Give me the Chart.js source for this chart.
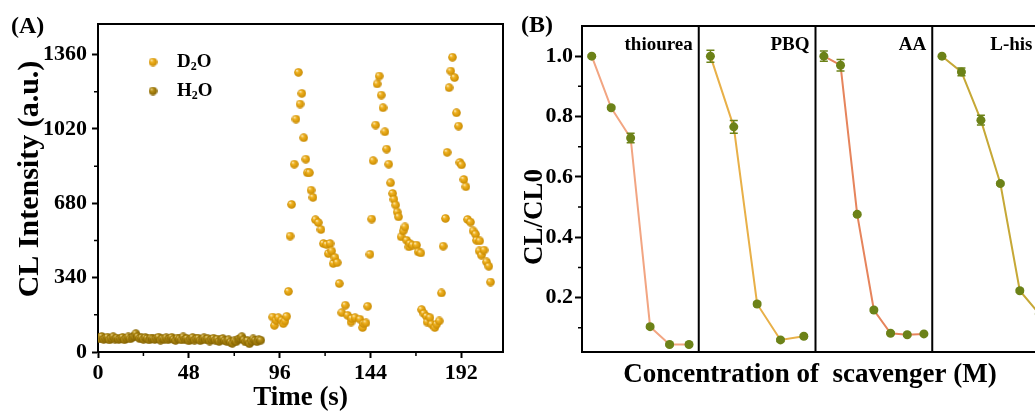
<!DOCTYPE html>
<html><head><meta charset="utf-8">
<script src="https://cdn.jsdelivr.net/npm/chart.js@4/dist/chart.umd.min.js"></script>
<style>
html,body{margin:0;padding:0;width:1035px;height:414px;overflow:hidden;background:#fff;}
#wa{position:absolute;left:0;top:0;width:515px;height:414px;}
#wb{position:absolute;left:515px;top:0;width:560px;height:414px;}
canvas{display:block;}
</style></head><body>
<div id="wa"><canvas id="ca" width="515" height="414"></canvas></div>
<div id="wb"><canvas id="cb" width="560" height="414"></canvas></div>
<script>
// ---------- Panel A data ----------
const h2oValue = [66,60,71,58,63,68,55,62,70,59,
  64,57,61,67,56,63,69,60,66,72,
  84,70,61,65,58,66,62,55,64,60,
  57,63,68,54,61,59,65,56,62,67,
  58,53,64,60,55,69,57,62,51,59,
  66,54,60,63,52,58,65,56,61,50,
  57,63,54,59,48,55,61,52,49,56,
  45,40,51,47,58,62,70,55,46,52,
  38,49,60,53,47,56,54];
const h2oTime = h2oValue.map((v, i) => i);

const d2oTime = [92.3,93.2,94.1,95.3,97.1,97.9,98.8,99.7,100.6,101.5,102.3,103.7,104.6,105.9,106.8,107.7,108.7,109.8,110.6,111.7,112.6,113.6,114.9,116.4,117.8,119.1,120.8,121.7,122.6,123.5,124.3,125.2,126.4,127.5,128.8,130.7,131.9,133.7,134.0,135.8,138.4,139.8,140.2,141.6,142.5,
  143.7,144.6,145.4,146.7,147.5,148.6,149.7,150.6,151.6,152.5,153.6,154.6,155.7,156.4,157.3,158.1,158.8,160.2,161.3,162.2,163.1,164.3,164.8,166.2,168.3,169.2,170.6,
  171.0,172.2,173.6,173.9,175.4,176.3,178.0,178.9,180.3,
  181.5,182.4,183.6,184.5,185.5,186.4,187.3,188.4,189.4,190.5,191.2,192.1,193.3,194.4,195.3,196.8,198.2,199.5,200.0,201.4,201.7,202.6,204.0,205.3,206.5,207.4];
const d2oValue = [160,122,145,157,145,130,142,163,277,530,675,859,1065,1279,1134,1183,980,882,820,820,740,707,605,592,560,496,491,450,496,462,405,432,409,313,180,214,168,137,153,157,150,112,130,133,209,
  447,608,875,1038,1226,1262,1175,1117,1007,928,859,774,725,698,672,640,618,527,554,572,511,481,496,489,489,458,453,
  194,176,163,137,157,127,112,127,142,
  270,484,611,913,1209,1285,1348,1255,1094,1033,867,856,789,756,606,594,554,539,511,462,508,443,466,412,392,320];

const xTicksA = [0,48,96,144,192];
const xMinorA = [24,72,120,168];
const yTicksA = [0,340,680,1020,1360];
const yMinorA = [170,510,850,1190];

// ---------- Panel B data ----------
const scavengers = ['thiourea','PBQ','AA','L-his'];
const thioureaCL = [1.0,0.829,0.729,0.104,0.045,0.045];
const thioureaErr = [0.004,0.005,0.016,0.005,0.004,0.004];
const pbqCL = [1.0,0.766,0.179,0.06,0.072];
const pbqErr = [0.02,0.021,0.006,0.005,0.005];
const aaCL = [1.0,0.970,0.476,0.159,0.082,0.077,0.080];
const aaErr = [0.017,0.019,0.005,0.005,0.004,0.004,0.004];
const lhisCL = [1.0,0.948,0.788,0.578,0.223,0.146];
const lhisErr = [0.004,0.013,0.016,0.005,0.005,0.005];
const yTicksB = [0.2,0.4,0.6,0.8,1.0];
const yMinorB = [0.1,0.3,0.5,0.7,0.9];

// ---------- styles ----------
const FONT = "'Liberation Serif','Times New Roman',serif";
const seriesB = [
  {vals: thioureaCL, err: thioureaErr, line: 'rgb(242,165,130)'},
  {vals: pbqCL, err: pbqErr, line: 'rgb(232,176,72)'},
  {vals: aaCL, err: aaErr, line: 'rgb(230,132,92)'},
  {vals: lhisCL, err: lhisErr, line: 'rgb(198,168,54)'}
];
const POINT_B = 'rgb(108,130,24)';

function makeSphere(d, light, mid, dark) {
  const c = document.createElement('canvas');
  c.width = d; c.height = d;
  const x = c.getContext('2d');
  const r = d / 2;
  const g = x.createRadialGradient(r * 0.62, r * 0.55, 0, r, r, r);
  g.addColorStop(0, light); g.addColorStop(0.35, mid); g.addColorStop(1, dark);
  x.fillStyle = g; x.beginPath(); x.arc(r, r, r - 0.2, 0, Math.PI * 2); x.fill();
  return c;
}
const sphD2O = makeSphere(9, '#fff8dc', '#f0b220', '#c68800');
const sphH2O = makeSphere(9, '#f4e4a8', '#b88f16', '#7f5f00');

function chem(ctx, x, y, parts, size) {
  ctx.textBaseline = 'middle'; ctx.textAlign = 'left';
  for (const [t, sub] of parts) {
    ctx.font = 'bold ' + (sub ? Math.round(size * 0.62) : size) + 'px ' + FONT;
    ctx.fillText(t, x, sub ? y + size * 0.28 : y);
    x += ctx.measureText(t).width;
  }
}

// ---------- Panel A ----------
const plugA = {
  id: 'plugA',
  afterDraw(chart) {
    const {ctx, chartArea: a, scales: {x, y}} = chart;
    ctx.save();
    ctx.strokeStyle = '#000'; ctx.lineWidth = 2;
    ctx.beginPath();
    ctx.moveTo(a.left - 1, a.top); ctx.lineTo(a.right, a.top); ctx.lineTo(a.right, a.bottom + 1);
    ctx.stroke();
    ctx.lineWidth = 1.5;
    ctx.beginPath();
    for (const v of xMinorA) { const px = x.getPixelForValue(v); ctx.moveTo(px, a.bottom); ctx.lineTo(px, a.bottom + 4); }
    for (const v of yMinorA) { const py = y.getPixelForValue(v); ctx.moveTo(a.left, py); ctx.lineTo(a.left - 4, py); }
    ctx.stroke();
    // legend
    ctx.drawImage(sphD2O, 153 - 4.5, 62 - 4.5);
    ctx.drawImage(sphH2O, 153 - 4.5, 91 - 4.5);
    ctx.fillStyle = '#000';
    chem(ctx, 177, 62, [['D', false], ['2', true], ['O', false]], 19);
    chem(ctx, 177, 91, [['H', false], ['2', true], ['O', false]], 19);
    // titles
    ctx.font = 'bold 24px ' + FONT;
    ctx.textAlign = 'left'; ctx.textBaseline = 'middle';
    ctx.fillText('(A)', 11, 27);
    ctx.font = 'bold 27px ' + FONT;
    ctx.textAlign = 'center';
    ctx.fillText('Time (s)', (a.left + a.right) / 2, 398);
    ctx.font = 'bold 30px ' + FONT;
    ctx.translate(30, 179); ctx.rotate(-Math.PI / 2);
    ctx.fillText('CL Intensity (a.u.)', 0, 0);
    ctx.restore();
  }
};

new Chart(document.getElementById('ca'), {
  type: 'scatter',
  data: {
    datasets: [
      {label: 'H2O', data: h2oTime.map((t, i) => ({x: t, y: h2oValue[i]})), pointStyle: sphH2O},
      {label: 'D2O', data: d2oTime.map((t, i) => ({x: t, y: d2oValue[i]})), pointStyle: sphD2O}
    ]
  },
  options: {
    responsive: false, animation: false, devicePixelRatio: 1,
    layout: {padding: {left: 0, top: 24, right: 12, bottom: 0}},
    plugins: {legend: {display: false}, tooltip: {enabled: false}},
    scales: {
      x: {
        type: 'linear', min: 0, max: 214,
        afterBuildTicks: s => { s.ticks = xTicksA.map(v => ({value: v})); },
        afterFit: s => { s.height = 62; },
        ticks: {font: {family: FONT, size: 22, weight: 'bold'}, color: '#000', padding: 2, maxRotation: 0, autoSkip: false, callback: v => String(v)},
        grid: {drawOnChartArea: false, drawTicks: true, tickLength: 6, tickColor: '#000', tickWidth: 2},
        border: {display: true, color: '#000', width: 2}
      },
      y: {
        type: 'linear', min: 0, max: 1500,
        afterBuildTicks: s => { s.ticks = yTicksA.map(v => ({value: v})); },
        afterFit: s => { s.width = 98; },
        ticks: {font: {family: FONT, size: 22, weight: 'bold'}, color: '#000', padding: 5, callback: v => String(v)},
        grid: {drawOnChartArea: false, drawTicks: true, tickLength: 6, tickColor: '#000', tickWidth: 2},
        border: {display: true, color: '#000', width: 2}
      }
    }
  },
  plugins: [plugA]
});

// ---------- Panel B ----------
const plugB = {
  id: 'plugB',
  afterDatasetsDraw(chart) {
    const {ctx, scales: {x, y}} = chart;
    ctx.save();
    ctx.strokeStyle = POINT_B; ctx.lineWidth = 1.5;
    chart.data.datasets.forEach((ds, k) => {
      const err = seriesB[k].err;
      ds.data.forEach((p, i) => {
        const px = x.getPixelForValue(p.x);
        const y1 = y.getPixelForValue(p.y + err[i]), y2 = y.getPixelForValue(p.y - err[i]);
        ctx.beginPath();
        ctx.moveTo(px, y1); ctx.lineTo(px, y2);
        ctx.moveTo(px - 4, y1); ctx.lineTo(px + 4, y1);
        ctx.moveTo(px - 4, y2); ctx.lineTo(px + 4, y2);
        ctx.stroke();
      });
    });
    ctx.restore();
  },
  afterDraw(chart) {
    const {ctx, chartArea: a, scales: {x, y}} = chart;
    ctx.save();
    ctx.strokeStyle = '#000'; ctx.lineWidth = 2;
    ctx.beginPath();
    ctx.moveTo(a.left - 1, a.top); ctx.lineTo(a.right, a.top);
    for (let k = 1; k < scavengers.length; k++) {
      const px = x.getPixelForValue(k);
      ctx.moveTo(px, a.top); ctx.lineTo(px, a.bottom);
    }
    ctx.stroke();
    ctx.lineWidth = 1.5;
    ctx.beginPath();
    for (const v of yMinorB) { const py = y.getPixelForValue(v); ctx.moveTo(a.left, py); ctx.lineTo(a.left - 4, py); }
    ctx.stroke();
    ctx.fillStyle = '#000';
    ctx.font = 'bold 19px ' + FONT;
    ctx.textBaseline = 'middle';
    scavengers.forEach((name, k) => {
      if (k < scavengers.length - 1) {
        ctx.textAlign = 'right';
        ctx.fillText(name, x.getPixelForValue(k + 1) - 6, 45);
      } else {
        ctx.textAlign = 'left';
        ctx.fillText(name, x.getPixelForValue(k) + 58, 45);
      }
    });
    ctx.font = 'bold 24px ' + FONT;
    ctx.textAlign = 'left';
    ctx.fillText('(B)', 6, 26);
    ctx.font = 'bold 27px ' + FONT;
    ctx.textAlign = 'center';
    ctx.fillText('Concentration of  scavenger (M)', 295, 375);
    ctx.translate(20, 217); ctx.rotate(-Math.PI / 2);
    ctx.fillText('CL/CL0', 0, 0);
    ctx.restore();
  }
};

new Chart(document.getElementById('cb'), {
  type: 'line',
  data: {
    datasets: seriesB.map((s, k) => ({
      label: scavengers[k],
      data: s.vals.map((v, i) => ({x: k + (i + 0.5) / s.vals.length, y: v})),
      borderColor: s.line, borderWidth: 2, tension: 0,
      pointBackgroundColor: POINT_B, pointBorderColor: POINT_B, pointRadius: 4.5, pointBorderWidth: 0
    }))
  },
  options: {
    responsive: false, animation: false, devicePixelRatio: 1,
    layout: {padding: {left: 0, top: 26, right: 26, bottom: 0}},
    plugins: {legend: {display: false}, tooltip: {enabled: false}},
    scales: {
      x: {
        type: 'linear', min: 0, max: 4,
        afterFit: s => { s.height = 62; },
        ticks: {display: false},
        grid: {display: false},
        border: {display: true, color: '#000', width: 2}
      },
      y: {
        type: 'linear', min: 0.02, max: 1.1,
        afterBuildTicks: s => { s.ticks = yTicksB.map(v => ({value: v})); },
        afterFit: s => { s.width = 67; },
        ticks: {font: {family: FONT, size: 22, weight: 'bold'}, color: '#000', padding: 2, callback: v => v.toFixed(1)},
        grid: {drawOnChartArea: false, drawTicks: true, tickLength: 7, tickColor: '#000', tickWidth: 2},
        border: {display: true, color: '#000', width: 2}
      }
    }
  },
  plugins: [plugB]
});
</script>
</body></html>
